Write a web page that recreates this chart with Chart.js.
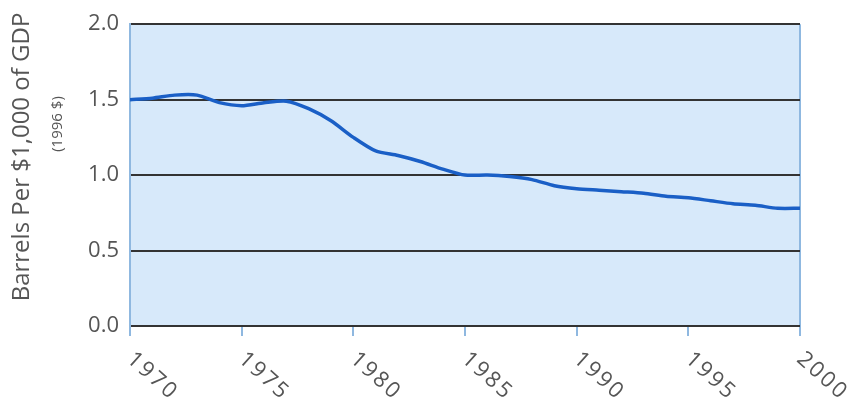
<!DOCTYPE html>
<html><head><meta charset="utf-8">
<script src="https://cdn.jsdelivr.net/npm/chart.js@4"></script>
<style>html,body{margin:0;padding:0;background:#fff}#w{width:853px;height:404px}</style>
</head><body><div id="w"><canvas id="c" width="853" height="404"></canvas></div>
<script>
const years = [1970,1971,1972,1973,1974,1975,1976,1977,1978,1979,1980,1981,1982,1983,1984,1985,1986,1987,1988,1989,1990,1991,1992,1993,1994,1995,1996,1997,1998,1999,2000];
const barrelsPerGDP = [1.50,1.51,1.53,1.53,1.48,1.46,1.48,1.49,1.44,1.36,1.25,1.16,1.13,1.09,1.04,1.00,1.00,0.99,0.97,0.93,0.91,0.90,0.89,0.88,0.86,0.85,0.83,0.81,0.80,0.78,0.78];
const xTickLabels = ['1970','1975','1980','1985','1990','1995','2000'];
const yTitle = 'Barrels Per $1,000 of GDP';
const ySubTitle = '(1996 $)';

const FONT = '"Open Sans", Lato, sans-serif';
const LIGHT = '#8fb8e0';
const FILL = '#d7e9fa';
const TEXT = '#555';

const decor = {
  id: 'decor',
  beforeDraw(chart) {
    const {ctx, chartArea: a} = chart;
    ctx.save();
    ctx.fillStyle = FILL;
    ctx.fillRect(a.left, a.top, a.right - a.left, a.bottom - a.top);
    ctx.restore();
  },
  afterDraw(chart) {
    const {ctx, chartArea: a} = chart;
    const xs = chart.scales.x;
    ctx.save();
    ctx.fillStyle = TEXT;
    ctx.font = '22px ' + FONT;
    ctx.textAlign = 'left';
    ctx.textBaseline = 'middle';
    try { ctx.letterSpacing = '2.5px'; } catch (e) {}
    xTickLabels.forEach(l => {
      const px = xs.getPixelForValue(Number(l));
      ctx.save();
      ctx.translate(px, a.bottom + 30);
      ctx.rotate(42 * Math.PI / 180);
      ctx.fillText(l, 0, 0);
      ctx.restore();
    });
    try { ctx.letterSpacing = '0px'; } catch (e) {}
    // y titles
    ctx.save();
    ctx.translate(22, 157);
    ctx.rotate(-Math.PI / 2);
    ctx.textAlign = 'center';
    ctx.font = '24px ' + FONT;
    ctx.fillText(yTitle, 0, 0);
    ctx.restore();
    ctx.save();
    ctx.translate(58, 124);
    ctx.rotate(-Math.PI / 2);
    ctx.textAlign = 'center';
    ctx.font = '15px ' + FONT;
    ctx.fillText(ySubTitle, 0, 0);
    ctx.restore();
    ctx.restore();
  }
};

new Chart(document.getElementById('c'), {
  type: 'line',
  data: {
    datasets: [{
      data: years.map((y, i) => ({x: y, y: barrelsPerGDP[i]})),
      borderColor: '#1a5fc6',
      borderWidth: 3.5,
      pointRadius: 0,
      tension: 0.25,
      fill: false
    }]
  },
  options: {
    responsive: false,
    animation: false,
    layout: {padding: {top: 20, right: 53, bottom: 0, left: 0}},
    plugins: {legend: {display: false}, tooltip: {enabled: false}},
    scales: {
      x: {
        type: 'linear', min: 1970, max: 2000,
        afterFit(s) { s.height = 78; },
        ticks: {stepSize: 5, display: false},
        border: {display: false},
        grid: {
          color: c => (c.tick && (c.tick.value === 1970 || c.tick.value === 2000)) ? LIGHT : 'rgba(0,0,0,0)',
          lineWidth: 2,
          tickColor: LIGHT,
          tickLength: 10,
          drawTicks: true
        }
      },
      y: {
        min: 0, max: 2.0,
        afterFit(s) { s.width = 130; },
        ticks: {stepSize: 0.5, padding: 11, color: TEXT, font: {family: FONT, size: 22},
          callback: v => v.toFixed(1)},
        border: {display: true, color: LIGHT, width: 2},
        grid: {color: '#333', lineWidth: 2, drawTicks: false}
      }
    }
  },
  plugins: [decor]
});
</script>
</body></html>
